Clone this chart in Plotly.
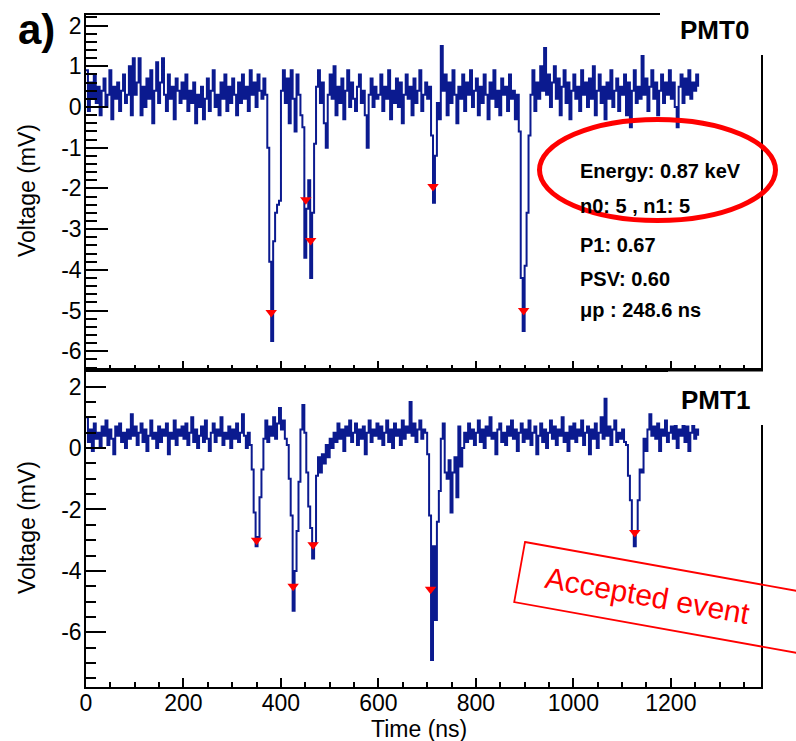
import numpy as np
import plotly.graph_objects as go

# ---------------- data ----------------
SAMPLE_NS = 4  # sampling step of the digitised waveform

pmt0_mv = [
    0.9, -0.1, 0.6, 0.2, 0.8, 0.1, 0.5, -0.2, 0.4, 0.7, 0.0, 0.3, 0.9, -0.3, 0.5, 0.2, 0.6, -0.1, 0.4, 0.8, 0.1, 0.3, 1.0, -0.2, 1.2,
    0.3, 0.6, 1.2, -0.2, 0.5, 0.0, 0.7, 0.2, 0.9, -0.4, 0.4, 1.1, 0.1, 0.6, 1.2, 0.3, -0.1, 0.8, 0.2, 0.5, -0.3, 0.7, 0.4, 0.1, 0.6,
    0.2, 0.8, -0.1, 0.4, 0.1, 0.6, -0.4, 0.3, 0.0, 0.5, -0.3, 0.2, 0.7, -0.1, 0.4, 0.9, 0.0, 0.3, -0.2, 0.6, 0.2, 0.8, -0.1, 0.5, 0.1,
    0.7, 0.3, -0.2, 0.6, 0.1, 0.8, 0.2, 0.5, -0.1, 0.9, 0.3, 0.6, 0.0, 0.8, 0.4, 0.2, 0.7, 0.3, -1.0, -3.8, -5.75, -3.3, -2.6, -2.4, -2.3,
    0.4, 0.9, 0.1, 0.7, -0.4, 0.9, 0.2, -0.6, 0.8, 0.3, -0.2, -0.5, -3.7, -2.5, -1.8, -4.2, -2.6, -0.9, 0.5, 0.9, 0.1, 0.6, -0.4, -1.0, 0.3,
    0.8, 0.2, 1.0, -0.2, 0.5, 0.1, 0.7, -0.3, 0.4, 0.9, 0.0, 0.6, 0.2, -0.1, 0.5, 0.8, 0.1, 0.4, -0.2, -1.0, 0.3, 0.7, 0.0, 0.5, 0.2,
    0.3, 0.8, -0.1, 0.5, 0.2, 0.9, -0.3, 0.4, 0.1, 0.7, 0.0, 0.6, -0.4, 0.3, 0.8, 0.2, 0.5, -0.2, 0.7, 0.1, 0.4, 0.9, -0.1, 0.3, 0.6,
    0.2, 0.5, -0.7, -2.35, -1.2, 0.1, -0.3, 1.5, 0.4, 0.8, -0.2, 0.6, 0.1, 0.9, 0.3, -0.4, 0.5, 0.2, 0.8, -0.1, 0.6, 0.3, 0.9, 0.0, 0.4,
    0.7, -0.2, 0.5, 0.1, 0.8, 0.3, -0.3, 0.6, 0.2, 0.9, 0.0, 0.4, -0.2, 0.7, 0.3, 0.5, -0.1, 0.8, 0.2, 0.4, -0.3, 0.3, -0.6, -4.2, -5.5,
    -3.9, -2.6, -0.7, 0.3, 0.9, -0.1, 0.6, 0.2, 1.0, 0.4, 1.45, 0.3, 0.8, 0.0, 0.6, 1.0, 0.2, 0.7, -0.2, 0.5, 0.9, 0.1, 0.6, -0.3, 0.4,
    0.8, 0.2, 0.5, -0.1, 0.9, 0.3, 0.6, 0.0, 0.7, 0.2, 1.0, -0.2, 0.4, 0.8, 0.1, 0.5, -0.3, 0.6, 0.2, 0.9, 0.0, 0.4, 0.7, -0.1, 0.5,
    0.3, 0.8, -0.2, 0.6, -0.5, 0.4, 0.9, 0.1, 0.5, 0.2, 1.25, 0.3, 0.7, -0.1, 0.5, 0.9, 0.2, 0.6, -0.2, 0.4, 0.8, 0.1, 0.6, 0.3, 0.9,
    0.2, 0.6, 0.0, -0.5, 0.5, 0.8, 0.1, 0.7, 0.3, 0.9, 0.2, 0.6, 0.4, 0.8, 0.5,
]

pmt1_mv = [
    1.0, 0.2, 0.6, -0.1, 0.8, 0.3, 0.5, 0.0, 0.7, 0.4, 0.9, 0.1, 0.6, 0.3, -0.2, 0.7, 0.4, 0.8, 0.2, 0.5, 0.0, 0.6, 0.3, 1.1, 0.4,
    0.7, 0.1, 0.5, 0.8, 0.2, 0.6, -0.1, 0.4, 0.9, 0.3, 0.5, 0.0, 0.7, 0.2, 0.6, 0.4, 0.8, -0.2, 0.5, 0.3, 0.9, 0.1, 0.6, 0.4, 0.7,
    0.3, 0.8, 0.1, 0.5, 1.0, 0.2, 0.6, 0.0, 0.4, 0.7, 0.2, 0.9, 0.3, -0.1, 0.5, 0.8, 0.2, 0.6, 0.4, 1.0, 0.1, 0.5, 0.3, 0.7, 0.0,
    0.6, 0.3, 0.8, 0.2, 0.5, 1.1, 0.4, 0.0, 0.5, 0.1, -0.7, -2.1, -3.2, -2.9, -1.6, -0.7, 0.3, 0.9, 0.2, 0.7, 0.4, 1.0, 0.3, 0.8, 1.3,
    0.6, 0.9, 0.3, 0.1, -1.0, -2.2, -5.3, -4.0, -2.7, -1.1, 0.6, 1.4, 0.5, -0.8, -1.9, -2.6, -3.6, -3.1, -0.9, -0.3, -0.8, -0.2, -0.5, 0.1, -0.3,
    0.3, 0.0, 0.5, 0.2, 0.8, 0.3, 0.6, -0.1, 0.7, 0.4, 0.9, 0.2, 0.5, 0.8, 0.1, 0.6, 0.3, 0.7, -0.2, 0.5, 0.9, 0.2, 0.6, 0.4, 0.8,
    0.3, 0.7, 0.1, 0.5, 0.9, 0.2, 0.6, 0.0, 0.8, 0.4, 0.6, 0.1, 0.9, 0.3, 0.7, 0.5, 1.5, 0.4, 0.8, 0.2, 0.6, 0.9, 0.3, 0.6, 0.5,
    -0.2, -2.2, -6.9, -3.2, -5.6, -2.4, -1.4, 0.3, 0.8, -0.8, -1.0, -0.4, -2.1, -0.8, -0.3, -1.6, 0.7, -0.6, 0.0, 0.5, 0.2, 0.8, 0.3, 0.6, 0.1,
    0.5, 0.9, 0.2, 0.6, 0.0, 0.7, 0.4, 1.0, 0.3, 0.5, -0.2, 0.6, 0.8, 0.2, 0.5, 0.1, 0.7, 0.4, 0.9, 0.3, 0.6, -0.1, 0.5, 0.8, 0.2,
    0.6, 0.3, 0.9, 0.1, 0.5, 0.7, -0.2, 0.4, 0.8, 0.2, 0.6, 0.0, 0.5, 0.9, 0.3, 0.7, 0.1, 0.6, 0.4, 1.0, 0.2, 0.5, -0.1, 0.7, 0.3,
    0.8, 0.2, 0.6, 0.4, 0.9, 0.1, 0.5, 0.7, -0.2, 0.6, 0.3, 0.8, 0.0, 0.5, 1.0, 0.3, 1.6, 0.4, 0.7, 0.1, 0.6, 0.9, 0.2, 0.5, 0.3,
    0.6, 0.2, 0.1, -0.9, -1.7, -2.7, -3.2, -2.7, -1.7, -0.7, -0.8, 0.3, -0.1, 0.6, 1.1, 0.4, 0.7, 0.3, 0.8, -0.1, 0.6, 0.4, 0.9, 0.2, 0.5,
    0.7, 0.3, 0.8, 0.0, 0.6, 0.4, 0.9, 0.2, 0.7, -0.1, 0.5, 0.8, 0.3, 0.6, 0.4,
]

# detected pulse peaks (red markers)
pmt0_peak_t = [380, 451, 461, 712, 898]
pmt0_peak_v = [-5.05, -2.28, -3.28, -1.95, -5.0]
pmt1_peak_t = [350, 425, 466, 707, 1126]
pmt1_peak_v = [-3.0, -4.5, -3.15, -4.6, -2.75]

x_tickvals = [0, 200, 400, 600, 800, 1000, 1200]
x_ticktext = ["0", "200", "400", "600", "800", "1000", "1200"]
y0_tickvals = [-6, -5, -4, -3, -2, -1, 0, 1, 2]
y0_ticktext = ["-6", "-5", "-4", "-3", "-2", "-1", "0", "1", "2"]
y1_tickvals = [-6, -4, -2, 0, 2]
y1_ticktext = ["-6", "-4", "-2", "0", "2"]

stats_lines = ["Energy: 0.87 keV", "n0: 5 , n1: 5", "P1: 0.67", "PSV: 0.60", "\u03bcp : 248.6 ns"]

# ---------------- figure ----------------
W, H = 796, 741
L, R, T, B = 86, 761, 15, 687   # plot area in pixels
SPLIT = 370                      # pixel row of the shared border


def pxx(x):
    return (x - L) / (R - L)


def pxy(y):
    return (B - y) / (B - T)


t0 = np.arange(len(pmt0_mv)) * SAMPLE_NS
t1 = np.arange(len(pmt1_mv)) * SAMPLE_NS

FONT = "Liberation Sans, Arial, Helvetica, sans-serif"
LINE_C = "#0b1a8f"
LW = 2.0

fig = go.Figure()
fig.add_trace(go.Scatter(x=t0, y=pmt0_mv, mode="lines", line=dict(color=LINE_C, width=LW, shape="hv"),
                         xaxis="x", yaxis="y", showlegend=False))
fig.add_trace(go.Scatter(x=pmt0_peak_t, y=pmt0_peak_v, mode="markers",
                         marker=dict(symbol="triangle-down", size=10, color="#ff0000"),
                         xaxis="x", yaxis="y", showlegend=False))
fig.add_trace(go.Scatter(x=t1, y=pmt1_mv, mode="lines", line=dict(color=LINE_C, width=LW, shape="hv"),
                         xaxis="x2", yaxis="y2", showlegend=False))
fig.add_trace(go.Scatter(x=pmt1_peak_t, y=pmt1_peak_v, mode="markers",
                         marker=dict(symbol="triangle-down", size=10, color="#ff0000"),
                         xaxis="x2", yaxis="y2", showlegend=False))

split_dom = pxy(SPLIT)
axis_common = dict(showline=True, linecolor="black", linewidth=1.5, mirror=True,
                   showgrid=False, zeroline=False, ticks="inside", tickcolor="black", tickwidth=1.5,
                   tickfont=dict(family=FONT, size=23, color="black"))

fig.update_layout(
    width=W, height=H,
    margin=dict(l=L, r=W - R, t=T, b=H - B, pad=0),
    paper_bgcolor="white", plot_bgcolor="white",
    font=dict(family=FONT, color="black"),
    xaxis=dict(**axis_common, domain=[0, 1], anchor="y", range=[0, 1385],
               tickmode="array", tickvals=x_tickvals, ticktext=x_ticktext, ticklen=9,
               showticklabels=False,
               minor=dict(ticks="inside", dtick=50, tick0=0, ticklen=5, tickcolor="black", tickwidth=1.5)),
    yaxis=dict(**axis_common, domain=[split_dom, 1], anchor="x", range=[-6.46, 2.26],
               tickmode="array", tickvals=y0_tickvals, ticktext=y0_ticktext, ticklen=22,
               ticklabelstandoff=-2,
               minor=dict(ticks="inside", dtick=0.2, tick0=0, ticklen=11, tickcolor="black", tickwidth=1.5)),
    xaxis2=dict(**axis_common, domain=[0, 1], anchor="y2", range=[0, 1385],
                tickmode="array", tickvals=x_tickvals, ticktext=x_ticktext, ticklen=9,
                ticklabelstandoff=-5,
                minor=dict(ticks="inside", dtick=50, tick0=0, ticklen=5, tickcolor="black", tickwidth=1.5)),
    yaxis2=dict(**axis_common, domain=[0, split_dom], anchor="x2", range=[-7.78, 2.54],
                tickmode="array", tickvals=y1_tickvals, ticktext=y1_ticktext, ticklen=20,
                ticklabelstandoff=-2,
                minor=dict(ticks="inside", dtick=0.5, tick0=0, ticklen=10, tickcolor="black", tickwidth=1.5)),
)

shapes = []
# white boxes behind the PMT labels (cover the frame corner)
shapes.append(dict(type="rect", xref="paper", yref="paper", layer="above",
                   x0=pxx(660), x1=pxx(796), y0=pxy(55), y1=pxy(0),
                   fillcolor="white", line=dict(width=0)))
shapes.append(dict(type="rect", xref="paper", yref="paper", layer="above",
                   x0=pxx(668), x1=pxx(796), y0=pxy(425), y1=pxy(371.5),
                   fillcolor="white", line=dict(width=0)))
# red ellipse around the energy
shapes.append(dict(type="circle", xref="paper", yref="paper", layer="above",
                   x0=pxx(539.5), x1=pxx(775.5), y0=pxy(220.5), y1=pxy(119.5),
                   line=dict(color="#ff0000", width=5)))
# rotated "Accepted event" box
ang = np.deg2rad(10.2)
blen, bh = 330, 61
p_tl = (525.0, 542.0)
ux, uy = np.cos(ang), np.sin(ang)
vx, vy = -np.sin(ang), np.cos(ang)
p_tr = (p_tl[0] + blen * ux, p_tl[1] + blen * uy)
p_br = (p_tr[0] + bh * vx, p_tr[1] + bh * vy)
p_bl = (p_tl[0] + bh * vx, p_tl[1] + bh * vy)
path = "M {} {} L {} {} L {} {} L {} {} Z".format(
    pxx(p_tl[0]), pxy(p_tl[1]), pxx(p_tr[0]), pxy(p_tr[1]),
    pxx(p_br[0]), pxy(p_br[1]), pxx(p_bl[0]), pxy(p_bl[1]))
shapes.append(dict(type="path", xref="paper", yref="paper", layer="above", path=path,
                   fillcolor="rgba(255,255,255,0)", line=dict(color="#ff0000", width=1.8)))
fig.update_layout(shapes=shapes)


def label(text, x, y, size, color="black", angle=0, xanchor="center"):
    return dict(text=text, x=pxx(x), y=pxy(y), xref="paper", yref="paper",
                xanchor=xanchor, yanchor="middle", textangle=angle, showarrow=False,
                font=dict(family=FONT, size=size, color=color))


ann = []
ann.append(label("<b>a)</b>", 36, 29, 42))
ann.append(label("<b>PMT0</b>", 714, 30, 26))
ann.append(label("<b>PMT1</b>", 715, 400, 26))
ann.append(label("Voltage (mV)", 27, 191, 23, angle=-90))
ann.append(label("Voltage (mV)", 27, 528, 23, angle=-90))
ann.append(label("Time (ns)", 419, 729, 23))
stat_y = [171, 206, 245, 279, 310]
for s, yy in zip(stats_lines, stat_y):
    ann.append(label("<b>" + s + "</b>", 578, yy, 20, xanchor="left"))
ann.append(label("Accepted event", 647, 595, 30, color="#ff0000", angle=10.2))
fig.update_layout(annotations=ann)

fig.write_html("out.html")
